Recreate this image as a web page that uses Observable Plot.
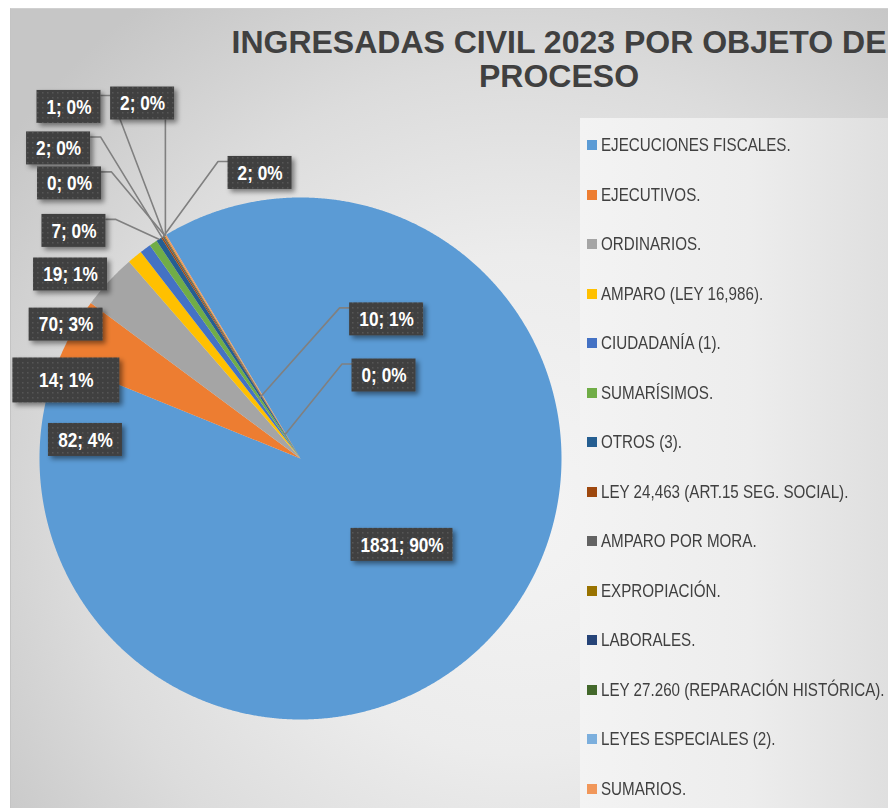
<!DOCTYPE html>
<html>
<head>
<meta charset="utf-8">
<script src="https://cdn.jsdelivr.net/npm/d3@7"></script>
<script src="https://cdn.jsdelivr.net/npm/@observablehq/plot@0.6"></script>
<style>
html,body{margin:0;padding:0;background:#fff;}
#wrap{position:relative;width:888px;height:808px;overflow:hidden;background:#fff;}
#bg{position:absolute;left:10px;top:8px;right:0;bottom:0;
  background:radial-gradient(ellipse 72% 78% at 58% 62%, #f4f4f4 0%, #ececec 40%, #dcdcdc 70%, #c6c6c6 100%);
  border-left:1px solid #c4c4c4;border-top:1px solid #d0d0d0;}
#legbg{position:absolute;left:580px;top:118px;right:0;bottom:0;
  background:linear-gradient(90deg,#f3f3f3 0%,#ededed 55%,#dfdfdf 100%);}
#title{position:absolute;left:159px;width:800px;top:25px;text-align:center;
  font-family:"Liberation Sans",Arial,sans-serif;font-weight:bold;font-size:32px;line-height:34px;color:#404040;white-space:nowrap;}
#chart{position:absolute;left:0;top:0;}
.sw{position:absolute;left:587px;width:10px;height:10px;}
.lt{position:absolute;left:601px;height:24px;line-height:24px;font-size:18.5px;color:#404040;white-space:nowrap;transform-origin:left center;}
</style>
</head>
<body>
<svg width="0" height="0" style="position:absolute">
  <defs>
    <pattern id="dots" width="5" height="5" patternUnits="userSpaceOnUse">
      <rect width="5" height="5" fill="#404040"/>
      <rect x="2" y="2" width="1.5" height="1.5" fill="#575757"/>
    </pattern>
    <filter id="shadow" x="-30%" y="-30%" width="170%" height="200%">
      <feDropShadow dx="3" dy="3" stdDeviation="2.5" flood-color="#000" flood-opacity="0.45"/>
    </filter>
  </defs>
</svg>
<div id="wrap">
  <div id="bg"></div>
  <div id="legbg"></div>
  <div id="chart"></div>
  <div id="title"></div>
  <div id="legend"></div>
</div>
<script>
// ---------- DATA ----------
const categories = [
  "EJECUCIONES FISCALES.", "EJECUTIVOS.", "ORDINARIOS.", "AMPARO (LEY 16,986).",
  "CIUDADANÍA (1).", "SUMARÍSIMOS.", "OTROS (3).", "LEY 24,463 (ART.15 SEG. SOCIAL).",
  "AMPARO POR MORA.", "EXPROPIACIÓN.", "LABORALES.", "LEY 27.260 (REPARACIÓN HISTÓRICA).",
  "LEYES ESPECIALES (2).", "SUMARIOS."
];
const values = [1831, 82, 70, 19, 14, 10, 7, 2, 2, 1, 0, 0, 0, 2];
const percentLabels = ["90%", "4%", "3%", "1%", "1%", "1%", "0%", "0%", "0%", "0%", "0%", "0%", "0%", "0%"];
const colors = ["#5B9BD5","#ED7D31","#A5A5A5","#FFC000","#4472C4","#70AD47","#255E91",
  "#9E480E","#636363","#997300","#264478","#43682B","#7CAFDD","#F1975A"];
const titleLines = ["INGRESADAS CIVIL 2023 POR OBJETO DE", "PROCESO"];

// ---------- LAYOUT (label placement, in pie-radius units; u right, v up) ----------
const labelLayout = [
  {i: 0,  u: 0.389,  v: -0.331},
  {i: 1,  u: -0.824, v: 0.071},
  {i: 2,  u: -0.898, v: 0.513},
  {i: 3,  u: -0.881, v: 0.705},
  {i: 4,  u: -0.897, v: 0.299, w: 107, h: 45},
  {i: 5,  u: 0.330,  v: 0.533, leaderR: 0.28},
  {i: 6,  u: -0.868, v: 0.872, leaderR: 1},
  {i: 7,  u: -0.927, v: 1.188, leaderR: 1},
  {i: 8,  u: -0.155, v: 1.094, leaderR: 1},
  {i: 9,  u: -0.887, v: 1.347, leaderR: 1},
  {i: 10, u: -0.885, v: 1.054, leaderR: 1},
  {i: 11, u: 0.320,  v: 0.318, leaderR: 0.11},
  {i: 13, u: -0.605, v: 1.360, leaderR: 1}
];

const W = 888, H = 808, R = 261, CX = 300, CY = 458, START_DEG = 329;

// ---------- FONT CHECK ----------
function hasFont(name) {
  const c = document.createElement("canvas").getContext("2d");
  const s = "ABCDEFGHIJ wwwmmm 0123456789";
  c.font = "40px monospace"; const a = c.measureText(s).width;
  c.font = `40px "${name}", monospace`; const b = c.measureText(s).width;
  return Math.abs(a - b) > 0.5;
}
const narrowOK = hasFont("Liberation Sans Narrow");
const NARROW = narrowOK ? '"Liberation Sans Narrow", "Arial Narrow", sans-serif' : '"Liberation Sans", Arial, sans-serif';
const SQUEEZE = narrowOK ? 1 : 0.82;

const ctx = document.createElement("canvas").getContext("2d");
ctx.font = `bold 21px ${NARROW}`;
const measure = t => ctx.measureText(t).width * SQUEEZE;

// ---------- PIE GEOMETRY ----------
const startA = START_DEG * Math.PI / 180;
const arcs = d3.pie().sort(null).value(d => d).startAngle(startA).endAngle(startA + 2 * Math.PI)(values);
const slicePts = [];
arcs.forEach((a, i) => {
  slicePts.push({cat: categories[i], u: 0, v: 0});
  const n = Math.max(2, Math.ceil((a.endAngle - a.startAngle) / (Math.PI / 720)));
  for (let k = 0; k <= n; k++) {
    const t = a.startAngle + (a.endAngle - a.startAngle) * k / n;
    slicePts.push({cat: categories[i], u: Math.sin(t), v: Math.cos(t)});
  }
});

// ---------- LABELS ----------
const labels = labelLayout.map(L => {
  const text = `${values[L.i]}; ${percentLabels[L.i]}`;
  const wpx = L.w ?? Math.round(measure(text) + 19);
  const hpx = L.h ?? 33;
  return {...L, text, hw: wpx / 2 / R, hh: hpx / 2 / R, tw: measure(text)};
});
const leaderPts = [];
labels.filter(L => L.leaderR).forEach((L, j) => {
  const a = arcs[L.i];
  const mid = (a.startAngle + a.endAngle) / 2;
  const T = {u: L.leaderR * Math.sin(mid), v: L.leaderR * Math.cos(mid)};
  let pts;
  if (T.u >= L.u - L.hw && T.u <= L.u + L.hw) {
    pts = [{u: T.u, v: L.v - L.hh}, T];
  } else if (T.u > L.u + L.hw) {
    const s = {u: L.u + L.hw, v: L.v + L.hh - 5 / R};
    pts = [s, {u: s.u + 10 / R, v: s.v}, T];
  } else {
    const s = {u: L.u - L.hw, v: L.v + L.hh - 5 / R};
    pts = [s, {u: s.u - 10 / R, v: s.v}, T];
  }
  pts.forEach(p => leaderPts.push({id: j, u: p.u, v: p.v}));
});

// ---------- PLOT ----------
const chart = Plot.plot({
  width: W, height: H,
  marginTop: 0, marginRight: 0, marginBottom: 0, marginLeft: 0,
  style: {background: "transparent", overflow: "visible"},
  x: {domain: [-CX / R, (W - CX) / R], axis: null},
  y: {domain: [-(H - CY) / R, CY / R], axis: null},
  color: {domain: categories, range: colors},
  marks: [
    Plot.line(slicePts, {x: "u", y: "v", z: "cat", fill: "cat", stroke: "none"}),
    Plot.line(leaderPts, {x: "u", y: "v", z: "id", stroke: "#808080", strokeWidth: 1.6}),
    Plot.rect(labels, {x1: d => d.u - d.hw, x2: d => d.u + d.hw, y1: d => d.v - d.hh, y2: d => d.v + d.hh, fill: "url(#dots)"}),
    Plot.text(labels, {x: "u", y: "v", text: "text", fill: "white", fontSize: 21, fontWeight: "bold", fontFamily: NARROW})
  ]
});
document.getElementById("chart").appendChild(chart);
const boxG = chart.querySelector('g[fill="url(#dots)"]');
if (boxG) boxG.setAttribute("filter", "url(#shadow)");
if (!narrowOK) {
  chart.querySelectorAll('g[aria-label="text"] text').forEach((t, k) => {
    t.setAttribute("textLength", labels[k].tw);
    t.setAttribute("lengthAdjust", "spacingAndGlyphs");
  });
}

// ---------- TITLE ----------
document.getElementById("title").innerHTML = titleLines.join("<br>");

// ---------- LEGEND ----------
const leg = document.getElementById("legend");
categories.forEach((c, i) => {
  const yc = 145 + i * 49.5;
  const sw = document.createElement("div");
  sw.className = "sw"; sw.style.top = (yc - 5) + "px"; sw.style.background = colors[i];
  const t = document.createElement("div");
  t.className = "lt"; t.style.top = (yc - 12) + "px"; t.style.fontFamily = NARROW;
  if (SQUEEZE !== 1) t.style.transform = `scaleX(${SQUEEZE})`;
  t.textContent = c;
  leg.appendChild(sw); leg.appendChild(t);
});
</script>
</body>
</html>
